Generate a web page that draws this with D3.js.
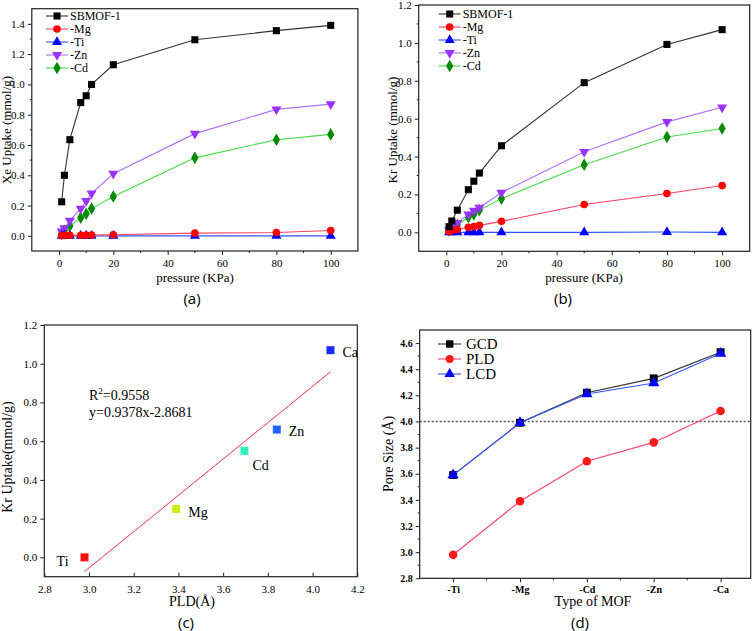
<!DOCTYPE html>
<html>
<head>
<script src="https://cdn.jsdelivr.net/npm/d3@7"></script>
<style>
  body { margin: 0; background: #fff; }
  svg { display: block; }
  text { font-family: "Liberation Serif", "Times New Roman", serif; fill: #000; }
  text.tag { font-family: "Open Sans", "DejaVu Sans", sans-serif; }
</style>
</head>
<body>
<div id="vis"></div>
<script>
// ---- data ----
const pressure = [1, 2, 4, 8, 10, 12, 20, 50, 80, 100];
const mofNames = ["SBMOF-1", "-Mg", "-Ti", "-Zn", "-Cd"];

// Xe uptake (mmol/g), panel a
const xeSB = [0.225, 0.40, 0.635, 0.88, 0.925, 1.00, 1.13, 1.295, 1.355, 1.39];
const xeMg = [0.002, 0.003, 0.004, 0.004, 0.005, 0.005, 0.007, 0.018, 0.022, 0.035];
const xeTi = [0, 0, 0, 0, 0, 0, 0, 0, 0, 0];
const xeZn = [0.03, 0.05, 0.10, 0.18, 0.23, 0.28, 0.41, 0.675, 0.835, 0.87];
const xeCd = [0.015, 0.035, 0.065, 0.12, 0.145, 0.18, 0.26, 0.515, 0.635, 0.67];

// Kr uptake (mmol/g), panel b
const krSB = [0.03, 0.06, 0.117, 0.225, 0.27, 0.313, 0.457, 0.79, 0.992, 1.07];
const krMg = [0.005, 0.01, 0.015, 0.027, 0.03, 0.037, 0.058, 0.147, 0.205, 0.247];
const krTi = [0, 0, 0, 0, 0, 0, 0, 0, 0.002, 0];
const krZn = [0.012, 0.025, 0.05, 0.095, 0.115, 0.13, 0.21, 0.425, 0.583, 0.66];
const krCd = [0.01, 0.02, 0.04, 0.08, 0.095, 0.117, 0.178, 0.357, 0.503, 0.548];

// panel c
const metals = ["Ti", "Mg", "Cd", "Zn", "Ca"];
const pld = [2.98, 3.39, 3.695, 3.84, 4.08];
const krAt100 = [0.0, 0.25, 0.55, 0.66, 1.07];
const fitSlope = 0.9378, fitIntercept = -2.8681;

// panel d
const mofTypes = ["-Ti", "-Mg", "-Cd", "-Zn", "-Ca"];
const gcd = [3.59, 3.99, 4.22, 4.33, 4.53];
const pldD = [2.98, 3.39, 3.695, 3.84, 4.08];
const lcd = [3.59, 3.99, 4.21, 4.295, 4.52];

const SERIF = "'Liberation Serif', 'Times New Roman', serif";
const width = 756, height = 631;
const svg = d3.select("#vis").append("svg").attr("width", width).attr("height", height);

const seriesStyle = [
  {marker: "square", fill: "#000", line: "#333"},
  {marker: "circle", fill: "#ff0000", line: "#ff4060"},
  {marker: "triangle", fill: "#0000ff", line: "#3355ff"},
  {marker: "down", fill: "#9933ff", line: "#b070ff"},
  {marker: "diamond", fill: "#008a00", line: "#44dd44"}
];

function symbolFor(kind, s) {
  const t = {square: d3.symbolSquare, circle: d3.symbolCircle, triangle: d3.symbolTriangle,
             down: d3.symbolTriangle, diamond: d3.symbolDiamond}[kind];
  const size = {square: 50, circle: 46, triangle: 44, down: 44, diamond: 46}[kind] * (s || 1);
  return d3.symbol().type(t).size(size)();
}

function drawMarker(g, kind, fill, x, y, s) {
  g.append("path")
    .attr("d", symbolFor(kind, s))
    .attr("transform", "translate(" + x + "," + y + ")" + (kind === "down" ? " rotate(180)" : ""))
    .attr("fill", fill);
}

// frame + axes with minor ticks
function frame(x, y, opt) {
  const g = svg.append("g");
  const [x0, x1] = x.range(), [y0, y1] = y.range();
  const xa = d3.axisBottom(x).tickSizeInner(opt.xIn ? -4 : 4).tickSizeOuter(0).tickPadding(opt.xIn ? 9 : 4);
  if (opt.xTicks) xa.tickValues(opt.xTicks);
  if (opt.xFormat) xa.tickFormat(opt.xFormat);
  const ya = d3.axisLeft(y).tickValues(opt.yTicks).tickFormat(d3.format(".1f")).tickSize(4).tickSizeOuter(0).tickPadding(3);
  const gx = g.append("g").attr("transform", "translate(0," + y0 + ")").call(xa);
  const gy = g.append("g").attr("transform", "translate(" + x0 + ",0)").call(ya);
  [gx, gy].forEach(a => {
    a.attr("font-family", SERIF);
    a.select(".domain").remove();
    a.selectAll("line").attr("stroke", "#222");
    a.selectAll("text").attr("font-family", SERIF).style("font-family", SERIF)
      .attr("font-size", opt.tickFont || "11px").attr("font-weight", opt.bold ? "bold" : "normal");
  });
  // minor ticks
  if (opt.xMinor) g.append("g").selectAll("line").data(opt.xMinor).join("line")
    .attr("x1", d => x(d)).attr("x2", d => x(d)).attr("y1", y0).attr("y2", y0 + (opt.xIn ? -2 : 2)).attr("stroke", "#222");
  if (opt.yMinor) g.append("g").selectAll("line").data(opt.yMinor).join("line")
    .attr("y1", d => y(d)).attr("y2", d => y(d)).attr("x1", x0).attr("x2", x0 - 2).attr("stroke", "#222");
  g.append("rect").attr("x", x0).attr("y", y1).attr("width", x1 - x0).attr("height", y0 - y1)
    .attr("fill", "none").attr("stroke", "#222").attr("stroke-width", 1.2);
  return g;
}

function titles(xLabel, xPos, yLabel, yPos, tag, tagPos, size) {
  svg.append("text").attr("x", xPos[0]).attr("y", xPos[1]).attr("text-anchor", "middle")
    .style("font-family", SERIF).style("font-size", size || "13px").text(xLabel);
  svg.append("text").attr("transform", "translate(" + yPos[0] + "," + yPos[1] + ") rotate(-90)")
    .attr("text-anchor", "middle").style("font-family", SERIF).style("font-size", size || "13px").text(yLabel);
  svg.append("text").attr("class", "tag").attr("x", tagPos[0]).attr("y", tagPos[1])
    .attr("text-anchor", "middle").style("font-size", "15px").text(tag);
}

function uptakePanel(series, xr, yDom, yr, yTicks, yMinor, legendX, legendY) {
  const x = d3.scaleLinear().domain([-10, 110]).range(xr);
  const y = d3.scaleLinear().domain(yDom).range(yr);
  frame(x, y, {xTicks: [0, 20, 40, 60, 80, 100], xFormat: d3.format("d"),
    xMinor: [10, 30, 50, 70, 90], yTicks: yTicks, yMinor: yMinor});
  const g = svg.append("g");
  const line = d3.line().x((d, i) => x(pressure[i])).y(d => y(d));
  // draw in reverse so black is on top
  series.map((s, k) => k).reverse().forEach(k => {
    const st = seriesStyle[k];
    g.append("path").attr("d", line(series[k])).attr("fill", "none").attr("stroke", st.line).attr("stroke-width", 1.1);
    series[k].forEach((v, i) => drawMarker(g, st.marker, st.fill, x(pressure[i]), y(v)));
  });
  const lg = svg.append("g");
  mofNames.forEach((n, k) => {
    const st = seriesStyle[k], yy = legendY + k * 13;
    lg.append("line").attr("x1", legendX - 11).attr("x2", legendX + 11).attr("y1", yy).attr("y2", yy)
      .attr("stroke", st.line).attr("stroke-width", 1.1);
    drawMarker(lg, st.marker, st.fill, legendX, yy);
    lg.append("text").attr("x", legendX + 13).attr("y", yy + 4)
      .style("font-family", SERIF).style("font-size", "12px").text(n);
  });
}

// (a)
uptakePanel([xeSB, xeMg, xeTi, xeZn, xeCd], [31.8, 357.9], [-0.1, 1.5], [251, 8.7],
  d3.range(0, 1.41, 0.2), d3.range(0.1, 1.5, 0.2), 57, 16);
titles("pressure (KPa)", [195, 282], "Xe Uptake (mmol/g)", [11, 130], "(a)", [192, 304]);

// (b)
uptakePanel([krSB, krMg, krTi, krZn, krCd], [418.7, 749.7], [-0.1, 1.2], [251.3, 5],
  d3.range(0, 1.21, 0.2), d3.range(0.1, 1.2, 0.2), 449.7, 14);
titles("pressure (KPa)", [584, 282], "Kr Uptake (mmol/g)", [397, 130], "(b)", [563, 304]);

// (c)
{
  const x = d3.scaleLinear().domain([2.8, 4.2]).range([44.3, 357.3]);
  const y = d3.scaleLinear().domain([-0.1, 1.2]).range([576.7, 325]);
  frame(x, y, {xTicks: d3.range(2.8, 4.21, 0.2), xFormat: d3.format(".1f"), xIn: true,
    yTicks: d3.range(0, 1.21, 0.2)});
  const g = svg.append("g");
  g.append("line").attr("x1", x(pld[0])).attr("x2", x(pld[4]))
    .attr("y1", y(fitSlope * pld[0] + fitIntercept)).attr("y2", y(fitSlope * pld[4] + fitIntercept))
    .attr("stroke", "#f03050").attr("stroke-width", 1);
  const cols = ["#ff1010", "#ccee11", "#33eebb", "#1a66ff", "#1a2aff"];
  const offs = [[-16, 9], [12, 8], [8, 19], [12, 6], [12, 7]];
  metals.forEach((m, i) => {
    g.append("rect").attr("x", x(pld[i]) - 4).attr("y", y(krAt100[i]) - 4).attr("width", 8).attr("height", 8).attr("fill", cols[i]);
    g.append("text").attr("x", x(pld[i]) + offs[i][0]).attr("y", y(krAt100[i]) + offs[i][1])
      .attr("text-anchor", i === 0 ? "end" : "start").style("font-family", SERIF).style("font-size", "14px").text(m);
  });
  const t = g.append("text").attr("x", 89).attr("y", 400).style("font-family", SERIF).style("font-size", "14px");
  t.append("tspan").text("R");
  t.append("tspan").attr("dy", -6).style("font-size", "9px").text("2");
  t.append("tspan").attr("dy", 6).text("=0.9558");
  g.append("text").attr("x", 89).attr("y", 417).style("font-family", SERIF).style("font-size", "14px").text("y=0.9378x-2.8681");
  titles("PLD(Å)", [192, 606], "Kr Uptake(mmol/g)", [12, 457], "(c)", [186, 628], "14px");
}

// (d)
{
  const x = d3.scaleLinear().domain([-0.5, 4.45]).range([419.7, 750.7]);
  const y = d3.scaleLinear().domain([2.8, 4.7]).range([578.3, 330]);
  frame(x, y, {xTicks: d3.range(0, 5), xFormat: i => mofTypes[i], xMinor: [0.5, 1.5, 2.5, 3.5],
    yTicks: d3.range(2.8, 4.61, 0.2), yMinor: d3.range(2.9, 4.7, 0.2), bold: true, tickFont: "10px"});
  const g = svg.append("g");
  g.append("line").attr("x1", x(-0.5)).attr("x2", x(4.45)).attr("y1", y(4.0)).attr("y2", y(4.0))
    .attr("stroke", "#555").attr("stroke-width", 1.3).attr("stroke-dasharray", "2,2");
  const dser = [
    {name: "GCD", v: gcd, marker: "square", fill: "#000", line: "#333"},
    {name: "PLD", v: pldD, marker: "circle", fill: "#ff1a1a", line: "#ff4070"},
    {name: "LCD", v: lcd, marker: "triangle", fill: "#0000ff", line: "#3355ff"}
  ];
  const line = d3.line().x((d, i) => x(i)).y(d => y(d));
  dser.forEach(s => {
    g.append("path").attr("d", line(s.v)).attr("fill", "none").attr("stroke", s.line).attr("stroke-width", 1.1);
    s.v.forEach((v, i) => drawMarker(g, s.marker, s.fill, x(i), y(v), 1.25));
  });
  dser.forEach((s, k) => {
    const yy = 344 + k * 15;
    g.append("line").attr("x1", 438).attr("x2", 461).attr("y1", yy).attr("y2", yy).attr("stroke", s.line).attr("stroke-width", 1.1);
    drawMarker(g, s.marker, s.fill, 449.7, yy, 1.1);
    g.append("text").attr("x", 466).attr("y", yy + 5).style("font-family", SERIF).style("font-size", "15px").text(s.name);
  });
  titles("Type of MOF", [593, 606], "Pore Size (Å)", [393, 454], "(d)", [580, 628], "14px");
}
</script>
</body>
</html>
